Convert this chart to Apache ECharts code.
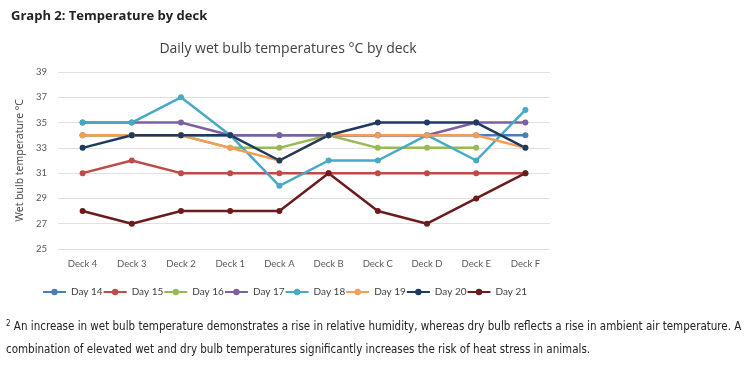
<!DOCTYPE html>
<html><head><meta charset="utf-8">
<script src="https://cdn.jsdelivr.net/npm/echarts@6/dist/echarts.min.js"></script>
<style>html,body{margin:0;padding:0;background:#fff;}#c{width:750px;height:366px;}</style>
</head><body><div id="c"></div>
<script>
var categories = ['Deck 4','Deck 3','Deck 2','Deck 1','Deck A','Deck B','Deck C','Deck D','Deck E','Deck F'];
var yTicks = [25,27,29,31,33,35,37,39];
var seriesNames = ['Day 14','Day 15','Day 16','Day 17','Day 18','Day 19','Day 20','Day 21'];
var day14 = [34,34,34,34,34,34,34,34,34,34];
var day15 = [31,32,31,31,31,31,31,31,31,31];
var day16 = [34,34,34,33,33,34,33,33,33,null];
var day17 = [35,35,35,34,34,34,34,34,35,35];
var day18 = [35,35,37,34,30,32,32,34,32,36];
var day19 = [34,34,34,33,32,34,34,34,34,33];
var day20 = [33,34,34,34,32,34,35,35,35,33];
var day21 = [28,27,28,28,28,31,28,27,29,31];
var seriesData = [day14,day15,day16,day17,day18,day19,day20,day21];
var colors = ['#4A7EBB','#BE4B48','#98B954','#7D60A0','#46AAC5','#F59D56','#1F3A60','#6B1C1C'];

var chart = echarts.init(document.getElementById('c'));
var series = seriesNames.map(function(n,i){
  return {
    name:n, type:'line', data:seriesData[i], symbol:'circle', symbolSize:6,
    lineStyle:{width:2.5,color:colors[i]}, itemStyle:{color:colors[i]},
    connectNulls:false, animation:false
  };
});
chart.setOption({
  animation:false,
  title:[
    {text:'Graph 2: Temperature by deck', left:6, top:5,
     textStyle:{fontFamily:'Open Sans',fontWeight:'bold',fontSize:13,color:'#222'}},
    {text:'Daily wet bulb temperatures °C by deck', left:283, textAlign:'center', top:37,
     textStyle:{fontFamily:'Open Sans',fontWeight:'normal',fontSize:14,color:'#404040'}}
  ],
  graphic:[
    {type:'text', left:6, top:320, style:{
      text:'{s|2} An increase in wet bulb temperature demonstrates a rise in relative humidity, whereas dry bulb reflects a rise in ambient air temperature. A',
      rich:{s:{fontSize:8,verticalAlign:'top',padding:[0,0,6,0],fontFamily:'DejaVu Sans Condensed',fill:'#222'}},
      font:'11.5px "DejaVu Sans Condensed", sans-serif', fill:'#222'}},
    {type:'text', left:6, top:344, style:{
      text:'combination of elevated wet and dry bulb temperatures significantly increases the risk of heat stress in animals.',
      font:'11.5px "DejaVu Sans Condensed", sans-serif', fill:'#222'}}
  ],
  legend:{
    data:seriesNames, left:37, top:282, itemWidth:23, itemHeight:8, itemGap:0,
    textStyle:{fontFamily:'Lato',fontSize:10,color:'#404040'}
  },
  grid:{left:58, right:200, top:72, bottom:117},
  xAxis:{type:'category', data:categories, boundaryGap:true,
    axisLine:{show:false}, axisTick:{show:false},
    axisLabel:{fontFamily:'Lato',fontSize:9.5,color:'#595959',margin:10}},
  yAxis:{type:'value', min:25, max:39, interval:2,
    name:'Wet bulb temperature °C', nameLocation:'middle', nameGap:32, nameRotate:90,
    nameTextStyle:{fontFamily:'Open Sans',fontSize:10.5,color:'#404040'},
    axisLine:{show:false}, axisTick:{show:false},
    axisLabel:{fontFamily:'Lato',fontSize:9.5,color:'#595959',margin:11,
      formatter:function(v){return yTicks.indexOf(v)>=0?String(v):'';}},
    splitLine:{lineStyle:{color:'#E0E0E0',width:1}}},
  series:series
});
</script></body></html>
